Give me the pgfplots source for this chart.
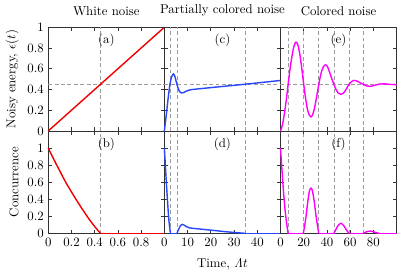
\documentclass[border=0pt]{standalone}
\usepackage{pgfplots}
\pgfplotsset{compat=1.18}
\definecolor{cred}{RGB}{240,0,0}
\definecolor{cblue}{RGB}{40,70,250}
\definecolor{cmag}{RGB}{255,0,255}
\definecolor{dgray}{RGB}{155,155,155}
\pgfplotsset{
  panel/.style={scale only axis, width=90.7pt, clip=false,
    axis line style={line width=0.6pt, black!80},
    tick style={line width=0.5pt, black!80},
    major tick length=2.8pt,
    title style={yshift=-0.5pt},
    xlabel style={yshift=-3pt},
  },
  toprow/.style={height=81pt, ymin=0, ymax=1,
    ytick={0,0.2,0.4,0.6,0.8,1}, xticklabels={}},
  botrow/.style={height=80pt, ymin=0, ymax=1.2,
    ytick={0,0.2,0.4,0.6,0.8,1}},
  thr/.style={dgray, line width=0.5pt, dash pattern=on 3pt off 2pt},
  curve/.style={line width=1.1pt, no markers},
}
\begin{document}
\begin{tikzpicture}
\useasboundingbox (-37.7pt,-31pt) rectangle (273.2pt,182.3pt);
% (a)
\begin{axis}[panel, toprow, at={(0pt,80pt)}, anchor=south west,
  xmin=0, xmax=1, xtick={0,0.2,0.4,0.6,0.8,1},
  yticklabels={$0$,$0.2$,$0.4$,$0.6$,$0.8$,$1$},
  ylabel={Noisy energy, $\epsilon(t)$}, title={White noise}]
\addplot[thr] coordinates {(0.45,0) (0.45,1)};
\addplot[thr] coordinates {(0,0.45) (1,0.45)};
\addplot[curve, cred] coordinates {(0,0) (1,1)};
\node[anchor=north, inner sep=0pt] at (rel axis cs:0.5,1) [yshift=-5pt] {(a)};
\end{axis}
% (b)
\begin{axis}[panel, botrow, at={(0pt,0pt)}, anchor=south west,
  xmin=0, xmax=1, xtick={0,0.2,0.4,0.6,0.8,1},
  xticklabels={$0$,$0.2$,$0.4$,$0.6$,$0.8$,},
  yticklabels={$0$,$0.2$,$0.4$,$0.6$,$0.8$,$1$},
  ylabel={Concurrence}]
\addplot[thr] coordinates {(0.45,0) (0.45,1.2)};
\addplot[curve, cred, smooth] coordinates {(0,1) (0.05,0.86) (0.1,0.73) (0.15,0.6) (0.2,0.485) (0.25,0.375) (0.3,0.27) (0.35,0.17) (0.4,0.08) (0.45,0)};
\addplot[curve, cred] coordinates {(0.45,0) (1,0)};
\node[anchor=north, inner sep=0pt] at (rel axis cs:0.5,1) [yshift=-5pt] {(b)};
\end{axis}
% (c)
\begin{axis}[panel, toprow, at={(90.7pt,80pt)}, anchor=south west,
  xmin=0, xmax=50, xtick={0,10,20,30,40,50},
  yticklabels={}, title={Partially colored noise}]
\addplot[thr] coordinates {(2.6,0) (2.6,1)};
\addplot[thr] coordinates {(5.4,0) (5.4,1)};
\addplot[thr] coordinates {(35,0) (35,1)};
\addplot[thr] coordinates {(0,0.45) (50,0.45)};
\addplot[curve, cblue, smooth] coordinates {(0,0) (0.8,0.15) (1.6,0.31) (2.4,0.45) (3.1,0.52) (3.9,0.55) (4.6,0.52) (5.4,0.45) (6.3,0.39) (7.3,0.367) (8.3,0.37) (9.5,0.385) (11,0.396) (13,0.402) (20,0.418) (30,0.44) (40,0.463) (50,0.487)};
\node[anchor=north, inner sep=0pt] at (rel axis cs:0.5,1) [yshift=-5pt] {(c)};
\end{axis}
% (d)
\begin{axis}[panel, botrow, at={(90.7pt,0pt)}, anchor=south west,
  xmin=0, xmax=50, xtick={0,10,20,30,40,50},
  xticklabels={$0$,$10$,$20$,$30$,$40$,},
  yticklabels={}, xlabel={Time, $\mathit{\Lambda} t$}]
\addplot[thr] coordinates {(2.6,0) (2.6,1.2)};
\addplot[thr] coordinates {(5.4,0) (5.4,1.2)};
\addplot[thr] coordinates {(35,0) (35,1.2)};
\addplot[curve, cblue, smooth] coordinates {(0,1) (0.5,0.76) (1,0.53) (1.5,0.32) (2,0.14) (2.6,0)};
\addplot[curve, cblue] coordinates {(2.6,0) (5.4,0)};
\addplot[curve, cblue, smooth] coordinates {(5.4,0) (6.2,0.05) (7,0.092) (7.7,0.106) (8.5,0.097) (9.5,0.078) (11,0.064) (13,0.057) (20,0.038) (27,0.018) (35,0)};
\addplot[curve, cblue] coordinates {(35,0) (50,0)};
\node[anchor=north, inner sep=0pt] at (rel axis cs:0.5,1) [yshift=-5pt] {(d)};
\end{axis}
% (e)
\begin{axis}[panel, toprow, at={(181.4pt,80pt)}, anchor=south west,
  xmin=0, xmax=100, xtick={0,20,40,60,80,100},
  yticklabels={}, title={Colored noise}]
\addplot[thr] coordinates {(6.6,0) (6.6,1)};
\addplot[thr] coordinates {(20,0) (20,1)};
\addplot[thr] coordinates {(33,0) (33,1)};
\addplot[thr] coordinates {(46,0) (46,1)};
\addplot[thr] coordinates {(59,0) (59,1)};
\addplot[thr] coordinates {(71.4,0) (71.4,1)};
\addplot[thr] coordinates {(0,0.45) (100,0.45)};
\addplot[curve, cmag, smooth] coordinates {(0,0) (1.5,0.05) (3,0.14) (4.8,0.28) (6.6,0.45) (8.5,0.62) (10.5,0.76) (12,0.83) (13.4,0.856) (15,0.83) (16.8,0.73) (18.5,0.59) (20,0.45) (21.7,0.31) (23.4,0.2) (25,0.15) (26.3,0.135) (27.8,0.16) (29.5,0.23) (31.3,0.34) (33,0.45) (35,0.56) (37,0.62) (38.8,0.638) (40.5,0.62) (42.5,0.56) (44.3,0.5) (46,0.45) (47.8,0.4) (49.8,0.365) (52,0.353) (54.2,0.365) (56.5,0.4) (59,0.45) (61,0.475) (63,0.487) (65,0.485) (67,0.475) (69.3,0.46) (71.4,0.45) (74,0.435) (77,0.43) (80,0.436) (83,0.447) (86,0.453) (89,0.455) (92,0.452) (96,0.448) (100,0.447)};
\node[anchor=north, inner sep=0pt] at (rel axis cs:0.5,1) [yshift=-5pt] {(e)};
\end{axis}
% (f)
\begin{axis}[panel, botrow, at={(181.4pt,0pt)}, anchor=south west,
  xmin=0, xmax=100, xtick={0,20,40,60,80,100},
  xticklabels={$0$,$20$,$40$,$60$,$80$,},
  yticklabels={}]
\addplot[thr] coordinates {(6.6,0) (6.6,1.2)};
\addplot[thr] coordinates {(20,0) (20,1.2)};
\addplot[thr] coordinates {(33,0) (33,1.2)};
\addplot[thr] coordinates {(46,0) (46,1.2)};
\addplot[thr] coordinates {(59,0) (59,1.2)};
\addplot[thr] coordinates {(71.4,0) (71.4,1.2)};
\addplot[curve, cmag, smooth] coordinates {(0,1) (1,0.8) (2,0.6) (3,0.42) (4,0.27) (5,0.15) (6,0.05) (6.6,0)};
\addplot[curve, cmag] coordinates {(6.6,0) (19.5,0)};
\addplot[curve, cmag, smooth] coordinates {(19.5,0) (20.5,0.06) (22,0.2) (23.5,0.37) (25,0.5) (26.3,0.53) (27.5,0.5) (29,0.38) (30.5,0.22) (32,0.08) (33,0)};
\addplot[curve, cmag] coordinates {(33,0) (46,0)};
\addplot[curve, cmag, smooth] coordinates {(46,0) (47.5,0.04) (49.5,0.09) (52,0.118) (54.5,0.09) (56.5,0.045) (59,0)};
\addplot[curve, cmag] coordinates {(59,0) (71.4,0)};
\addplot[curve, cmag, smooth] coordinates {(71.4,0) (73.5,0.015) (77,0.027) (80.5,0.017) (83,0.006) (85,0)};
\addplot[curve, cmag] coordinates {(85,0) (100,0)};
\node[anchor=north, inner sep=0pt] at (rel axis cs:0.5,1) [yshift=-5pt] {(f)};
\end{axis}
\end{tikzpicture}
\end{document}
